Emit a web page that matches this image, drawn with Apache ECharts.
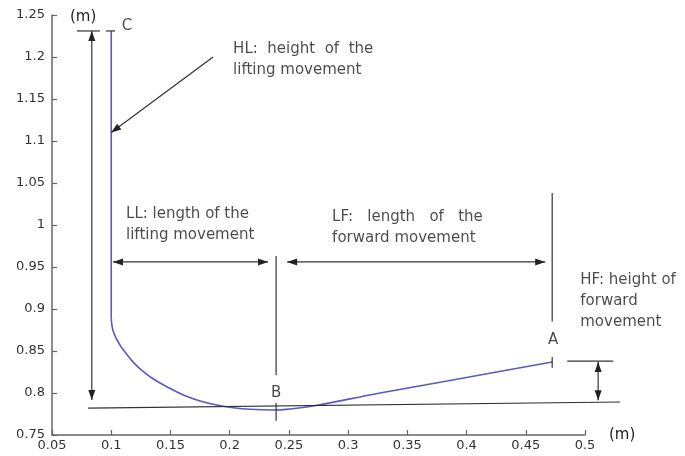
<!DOCTYPE html>
<html>
<head>
<meta charset="utf-8">
<script src="https://cdn.jsdelivr.net/npm/echarts@6/dist/echarts.min.js"></script>
<style>
  html, body { margin: 0; padding: 0; background: #fff; }
  #main { width: 685px; height: 456px; }
</style>
</head>
<body>
<div id="main"></div>
<script>
// foot trajectory: vertical lift up to C, then the curve down to B and up to A
var liftPath = [[0.1, 1.231], [0.1, 0.889]];
var movePath = [
    [0.1, 0.889], [0.1018, 0.873], [0.1074, 0.8571], [0.1131, 0.8462],
    [0.1187, 0.8365], [0.1271, 0.8254], [0.1356, 0.8167], [0.1469, 0.8075],
    [0.1609, 0.7976], [0.175, 0.7905], [0.1891, 0.7857], [0.2031, 0.7825],
    [0.2172, 0.7806], [0.2369, 0.7798], [0.25, 0.7808], [0.2704, 0.7845],
    [0.327, 0.800], [0.3836, 0.8143], [0.4394, 0.8286], [0.4723, 0.8369]
];

// guide lines: x1, y1, x2, y2, arrow at start, arrow at end
var guides = [
    [0.0836, 1.231, 0.0836, 0.7917, 1, 1],   // HL
    [0.0711, 1.231, 0.0905, 1.231, 0, 0],    // HL top bar
    [0.0956, 1.231, 0.1032, 1.231, 0, 0],    // C mark
    [0.186, 1.200, 0.1, 1.11, 0, 1],         // HL pointer
    [0.1015, 0.956, 0.2324, 0.956, 1, 1],    // LL
    [0.2485, 0.956, 0.4664, 0.956, 1, 1],    // LF
    [0.2392, 0.963, 0.2392, 0.821, 0, 0],    // B line
    [0.2392, 0.788, 0.2392, 0.767, 0, 0],    // B mark
    [0.4723, 1.038, 0.4723, 0.885, 0, 0],    // A line
    [0.4723, 0.843, 0.4723, 0.830, 0, 0],    // A mark
    [0.485, 0.838, 0.5238, 0.838, 0, 0],     // HF bar
    [0.5111, 0.837, 0.5111, 0.7915, 1, 1],   // HF
    [0.0804, 0.7821, 0.5297, 0.7893, 0, 0]   // base line
];

// notes: text, x, y (left edge, middle)
var notes = [
    ['HL:  height  of  the\nlifting movement', 0.2029, 1.197],
    ['LL: length of the\nlifting movement', 0.1125, 1.0006],
    ['LF:   length   of   the\nforward movement', 0.2865, 0.997],
    ['HF: height of\nforward\nmovement', 0.496, 0.9095]
];
// point letters: text, x, y (centre)
var points = [['C', 0.1133, 1.237], ['B', 0.2392, 0.800], ['A', 0.4731, 0.863]];

var FONT = 'DejaVu Sans';
var chart = echarts.init(document.getElementById('main'));

function arrowHead(tip, from) {
    var dx = tip[0] - from[0], dy = tip[1] - from[1];
    var len = Math.sqrt(dx * dx + dy * dy) || 1;
    var ux = dx / len, uy = dy / len;
    var L = 10, W = 3.5;
    var bx = tip[0] - ux * L, by = tip[1] - uy * L;
    return {
        type: 'polygon',
        shape: { points: [tip, [bx - uy * W, by + ux * W], [bx + uy * W, by - ux * W]] },
        style: { fill: '#222' }
    };
}

var option = {
    animation: false,
    grid: { left: 52, right: 100, top: 15, bottom: 21 },
    xAxis: {
        type: 'value', min: 0.05, max: 0.5, interval: 0.05,
        name: '(m)', nameLocation: 'end', nameGap: 24,
        nameTextStyle: { fontFamily: FONT, fontSize: 15, color: '#1e1e1e', verticalAlign: 'middle', padding: [10, 0, 0, 0] },
        axisLine: { lineStyle: { color: '#666', width: 1.5 } },
        axisTick: { inside: true, length: 5, lineStyle: { color: '#666', width: 1.2 } },
        axisLabel: { fontFamily: FONT, fontSize: 13, color: '#333', margin: 4 },
        splitLine: { show: false }
    },
    yAxis: {
        type: 'value', min: 0.75, max: 1.25, interval: 0.05,
        name: '(m)', nameLocation: 'end', nameGap: -2,
        nameTextStyle: { fontFamily: FONT, fontSize: 15, color: '#1e1e1e', align: 'left', verticalAlign: 'middle', padding: [0, 0, 0, 18] },
        axisLine: { lineStyle: { color: '#666', width: 1.5 } },
        axisTick: { inside: true, length: 5, lineStyle: { color: '#666', width: 1.2 } },
        axisLabel: { fontFamily: FONT, fontSize: 13, color: '#333', margin: 7 },
        splitLine: { show: false }
    },
    series: [
        {
            type: 'line', data: liftPath, symbol: 'none',
            lineStyle: { color: '#5b5bbf', width: 1.6 }, z: 3
        },
        {
            type: 'line', data: movePath, symbol: 'none', smooth: 0.4,
            lineStyle: { color: '#5b5bbf', width: 1.6 }, z: 3
        },
        {
            type: 'custom', data: guides, clip: false, z: 4,
            encode: { x: [0, 2], y: [1, 3] },
            renderItem: function (params, api) {
                var p1 = api.coord([api.value(0), api.value(1)]);
                var p2 = api.coord([api.value(2), api.value(3)]);
                var kids = [{
                    type: 'line',
                    shape: { x1: p1[0], y1: p1[1], x2: p2[0], y2: p2[1] },
                    style: { stroke: '#333', lineWidth: 1.2 }
                }];
                if (api.value(4)) kids.push(arrowHead(p1, p2));
                if (api.value(5)) kids.push(arrowHead(p2, p1));
                return { type: 'group', children: kids };
            }
        },
        {
            type: 'scatter', symbolSize: 0, clip: false, z: 5,
            data: notes.map(function (n) { return { value: [n[1], n[2]], name: n[0] }; }),
            label: {
                show: true, position: 'right', distance: 0,
                formatter: function (p) { return p.name; },
                fontFamily: FONT, fontSize: 15, lineHeight: 21, color: '#1e1e1e',
                align: 'left', verticalAlign: 'middle'
            }
        },
        {
            type: 'scatter', symbolSize: 0, clip: false, z: 5,
            data: points.map(function (n) { return { value: [n[1], n[2]], name: n[0] }; }),
            label: {
                show: true, position: 'inside',
                formatter: function (p) { return p.name; },
                fontFamily: FONT, fontSize: 15, color: '#1e1e1e'
            }
        }
    ]
};
chart.setOption(option);
</script>
</body>
</html>
